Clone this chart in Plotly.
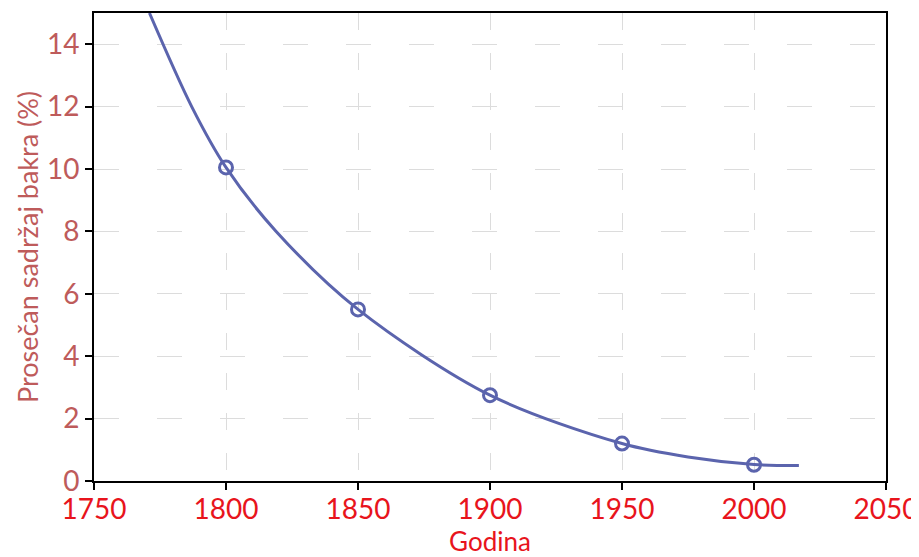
import plotly.graph_objects as go

# measured points (open circles)
years = [1800, 1850, 1900, 1950, 2000]
copper = [10.05, 5.5, 2.75, 1.2, 0.52]

# fitted trend curve
curve_years = [1771, 1787, 1800, 1819, 1850, 1900, 1950, 1975, 2000, 2017]
curve_vals = [15, 12, 10.05, 8, 5.5, 2.75, 1.2, 0.77, 0.53, 0.5]

blue = "#5B64AD"
font_name = "Lato, 'Open Sans', sans-serif"

fig = go.Figure()

fig.add_trace(go.Scatter(
    x=curve_years, y=curve_vals,
    mode="lines",
    line=dict(color=blue, width=3, shape="spline", smoothing=0.9),
    showlegend=False, hoverinfo="skip",
))

fig.add_trace(go.Scatter(
    x=years, y=copper,
    mode="markers",
    marker=dict(symbol="circle-open", size=13, color=blue, line=dict(width=3, color=blue)),
    showlegend=False,
))

# page body has an 8px margin, so the figure is sized to fit inside the window
fig.update_layout(
    width=911, height=549,
    margin=dict(l=86, r=33, t=5, b=76),
    plot_bgcolor="white", paper_bgcolor="white",
    font=dict(family=font_name),
)

fig.update_xaxes(
    range=[1750, 2050], dtick=50, tick0=1750, automargin=False,
    showline=True, linecolor="black", linewidth=2, mirror=True,
    ticks="outside", ticklen=7, tickwidth=2, tickcolor="black",
    showgrid=True, gridcolor="#dcdcdc", gridwidth=1.3, griddash="17px,23px",
    zeroline=False, ticklabelstandoff=-5,
    tickfont=dict(size=28, color="#E8141C", family=font_name),
    title=dict(text="Godina", font=dict(size=26, color="#E8141C", family=font_name), standoff=0),
)

fig.update_yaxes(
    range=[0, 15], dtick=2, tick0=0, automargin=False,
    showline=True, linecolor="black", linewidth=2, mirror=True,
    ticks="outside", ticklen=7, tickwidth=2, tickcolor="black",
    showgrid=True, gridcolor="#dcdcdc", gridwidth=1.3, griddash="25px,38px",
    zeroline=False,
    tickfont=dict(size=28, color="#BE5B5B", family=font_name),
    title=dict(text="Prosečan sadržaj bakra (%)", font=dict(size=27, color="#BE5B5B", family=font_name), standoff=0),
)

fig.write_html("out.html")
